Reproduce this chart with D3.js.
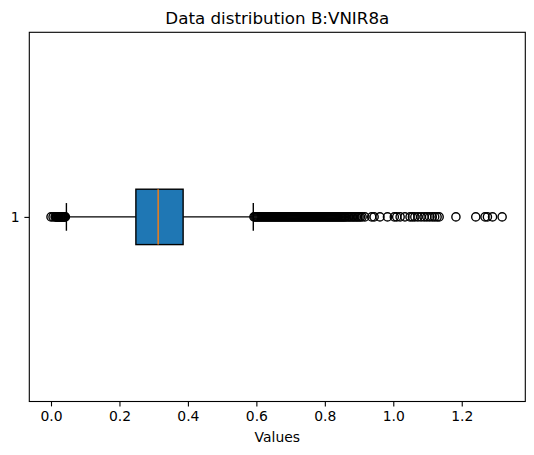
<!DOCTYPE html>
<meta charset="utf-8">
<style>
  body { margin: 0; background: #fff; }
  text { font-family: 'DejaVu Sans', sans-serif; fill: #000; }
</style>
<svg width="534" height="455"></svg>
<script src="https://d3js.org/d3.v7.min.js"></script>
<script>
// box statistics
var title = "Data distribution B:VNIR8a";
var xLabel = "Values";
var categories = ["1"];
var quartiles = [0.248, 0.313, 0.386];   // q1, median, q3
var whiskers = [0.045, 0.591];
var xTicks = [0.0, 0.2, 0.4, 0.6, 0.8, 1.0, 1.2];

var lowFliers = [0.0, 0.006, 0.012, 0.014, 0.016, 0.018, 0.020, 0.022, 0.024,
  0.026, 0.028, 0.030, 0.032, 0.034, 0.036, 0.038, 0.040, 0.042];

var highFliers = [0.593, 0.596, 0.599, 0.602, 0.605, 0.608, 0.611, 0.614, 0.617,
  0.620, 0.623, 0.626, 0.629, 0.632, 0.635, 0.638, 0.641, 0.644, 0.647, 0.650,
  0.653, 0.656, 0.659, 0.662, 0.665, 0.668, 0.671, 0.674, 0.677, 0.680, 0.683,
  0.686, 0.689, 0.692, 0.695, 0.698, 0.701, 0.704, 0.707, 0.710, 0.713, 0.716,
  0.719, 0.722, 0.725, 0.728, 0.731, 0.734, 0.737, 0.740, 0.743, 0.746, 0.749,
  0.752, 0.755, 0.758, 0.761, 0.764, 0.767, 0.770, 0.773, 0.776, 0.779, 0.782,
  0.785, 0.788, 0.791, 0.794, 0.797, 0.800, 0.803, 0.806, 0.809, 0.812, 0.815,
  0.818, 0.821, 0.824, 0.827, 0.830, 0.833, 0.836, 0.839, 0.842, 0.845, 0.848,
  0.851, 0.854, 0.857, 0.860, 0.864, 0.868, 0.872, 0.876, 0.880, 0.884, 0.888,
  0.892, 0.896, 0.900, 0.904, 0.909,
  0.917, 0.937, 0.944, 0.961, 0.983, 1.003, 1.010, 1.020, 1.034, 1.049,
  1.056, 1.063, 1.072, 1.081, 1.090, 1.098, 1.106, 1.114, 1.121, 1.128, 1.134,
  1.183, 1.241, 1.268, 1.275, 1.290, 1.318];

var svg = d3.select("svg"),
    margin = {top: 32.3, right: 8.7, bottom: 53.5, left: 29.3},
    width = +svg.attr("width") - margin.left - margin.right,
    height = +svg.attr("height") - margin.top - margin.bottom,
    g = svg.append("g").attr("transform", "translate(" + margin.left + "," + margin.top + ")");

var x = d3.scaleLinear()
    .domain([-0.0634, 1.3857])
    .range([0, width]);

var y = d3.scaleLinear()
    .domain([0.5, 1.5])
    .range([height, 0]);

var boxH = y(0.5) - y(0.5 + 0.15);
var cy = y(1);

// whisker lines
g.append("line")
    .attr("x1", x(whiskers[0])).attr("x2", x(quartiles[0]))
    .attr("y1", cy).attr("y2", cy)
    .attr("stroke", "#000").attr("stroke-width", 1.39);
g.append("line")
    .attr("x1", x(quartiles[2])).attr("x2", x(whiskers[1]))
    .attr("y1", cy).attr("y2", cy)
    .attr("stroke", "#000").attr("stroke-width", 1.39);

// caps
whiskers.forEach(function(w) {
  g.append("line")
      .attr("x1", x(w)).attr("x2", x(w))
      .attr("y1", cy - boxH / 4).attr("y2", cy + boxH / 4)
      .attr("stroke", "#000").attr("stroke-width", 1.39);
});

// fliers
g.append("g").selectAll("circle")
    .data(lowFliers.concat(highFliers))
  .enter().append("circle")
    .attr("cx", function(d) { return x(d); })
    .attr("cy", cy)
    .attr("r", 4.1)
    .attr("fill", "none")
    .attr("stroke", "#000")
    .attr("stroke-width", 1.39);

// box
g.append("rect")
    .attr("x", x(quartiles[0]))
    .attr("y", cy - boxH / 2)
    .attr("width", x(quartiles[2]) - x(quartiles[0]))
    .attr("height", boxH)
    .attr("fill", "#1f77b4")
    .attr("stroke", "#000")
    .attr("stroke-width", 1.39);

g.append("line")
    .attr("x1", x(quartiles[1])).attr("x2", x(quartiles[1]))
    .attr("y1", cy - boxH / 2).attr("y2", cy + boxH / 2)
    .attr("stroke", "#ff7f0e").attr("stroke-width", 1.39);

// axes
var xAxis = g.append("g")
    .attr("transform", "translate(0," + height + ")")
    .call(d3.axisBottom(x).tickValues(xTicks).tickFormat(d3.format(".1f"))
      .tickSizeInner(4.9).tickSizeOuter(0).tickPadding(4.9));

var yAxis = g.append("g")
    .call(d3.axisLeft(y).tickValues([1]).tickFormat(function(d, i) { return categories[i]; })
      .tickSizeInner(4.9).tickSizeOuter(0).tickPadding(4.9));

[xAxis, yAxis].forEach(function(a) {
  a.select(".domain").remove();
  a.selectAll("line").attr("stroke", "#000").attr("stroke-width", 1.1);
  a.selectAll("text").style("font-size", "13.9px").attr("fill", "#000")
      .style("font-family", "'DejaVu Sans', sans-serif");
});

g.append("rect")
    .attr("width", width).attr("height", height)
    .attr("fill", "none").attr("stroke", "#000").attr("stroke-width", 1.1);

g.append("text")
    .attr("x", width / 2)
    .attr("y", height + 40.5)
    .attr("text-anchor", "middle")
    .style("font-size", "13.9px")
    .text(xLabel);

g.append("text")
    .attr("x", width / 2)
    .attr("y", -8.6)
    .attr("text-anchor", "middle")
    .style("font-size", "16.7px")
    .text(title);
</script>
